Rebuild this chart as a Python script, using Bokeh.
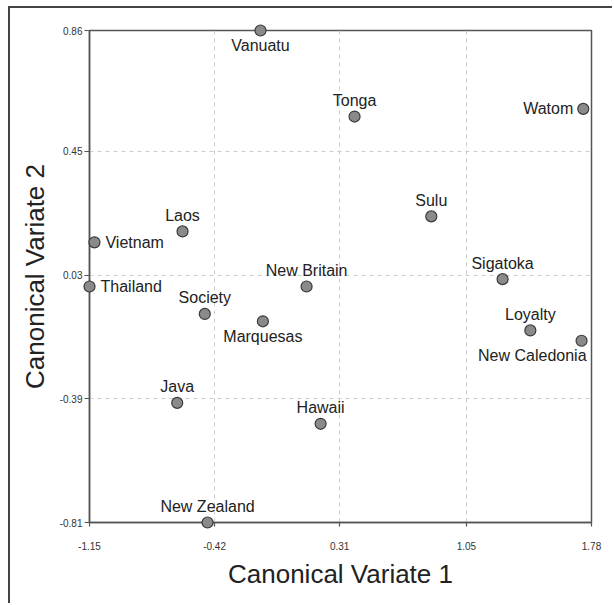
from bokeh.plotting import figure
from bokeh.models import ColumnDataSource, FixedTicker, Range1d, LabelSet
from bokeh.embed import file_html
from bokeh.resources import INLINE
from bokeh.core.properties import value

names = ["Vanuatu", "Tonga", "Watom", "Sulu", "Laos", "Vietnam", "Thailand",
         "New Britain", "Sigatoka", "Society", "Marquesas", "Loyalty",
         "New Caledonia", "Java", "Hawaii", "New Zealand"]
cv1 = [-0.152, 0.397, 1.732, 0.845, -0.607, -1.121, -1.150,
       0.117, 1.261, -0.477, -0.138, 1.423,
       1.722, -0.638, 0.199, -0.461]
cv2 = [0.860, 0.568, 0.594, 0.229, 0.178, 0.141, -0.009,
       -0.009, 0.016, -0.102, -0.127, -0.158,
       -0.193, -0.404, -0.475, -0.810]
placement = ["below", "above", "left", "above", "above", "right", "right",
             "above", "above", "above", "below", "above",
             "belowright", "above", "above", "above"]

x_ticks = [-1.15, -0.42, 0.31, 1.05, 1.78]
x_tick_labels = ["-1.15", "-0.42", "0.31", "1.05", "1.78"]
y_ticks = [0.86, 0.45, 0.03, -0.39, -0.81]
y_tick_labels = ["0.86", "0.45", "0.03", "-0.39", "-0.81"]

FONT = "Liberation Sans"
FRAME = "#555555"

xo, yo, al = [], [], []
for pl in placement:
    if pl == "above":
        xo.append(0); yo.append(16); al.append("center")
    elif pl == "below":
        xo.append(0); yo.append(-15); al.append("center")
    elif pl == "left":
        xo.append(-10); yo.append(0); al.append("right")
    elif pl == "right":
        xo.append(11); yo.append(0); al.append("left")
    else:
        xo.append(5); yo.append(-15); al.append("right")

src = ColumnDataSource(dict(x=cv1, y=cv2, name=names, xo=xo, yo=yo, al=al))

p = figure(width=604, height=597, output_backend="svg", toolbar_location=None,
           x_range=Range1d(x_ticks[0], x_ticks[-1]),
           y_range=Range1d(y_ticks[-1], y_ticks[0]),
           min_border_left=79, min_border_right=23, min_border_top=22,
           min_border_bottom=83,
           styles={"margin-left": "8px", "margin-top": "6px",
                   "border-left": "2px solid #444444",
                   "border-top": "2px solid #444444"})

p.outline_line_color = FRAME
p.outline_line_width = 1.5
p.outline_line_alpha = 1.0
p.background_fill_color = "white"
p.border_fill_color = "white"

p.xaxis.ticker = FixedTicker(ticks=x_ticks)
p.yaxis.ticker = FixedTicker(ticks=y_ticks)
p.xaxis.major_label_overrides = {t: l for t, l in zip(x_ticks, x_tick_labels)}
p.yaxis.major_label_overrides = {t: l for t, l in zip(y_ticks, y_tick_labels)}

for ax in (p.xaxis, p.yaxis):
    ax.axis_line_color = FRAME
    ax.axis_line_width = 1.5
    ax.major_tick_line_color = FRAME
    ax.major_tick_line_width = 1.2
    ax.major_tick_out = 5
    ax.major_tick_in = 0
    ax.minor_tick_line_color = None
    ax.major_label_text_font = FONT
    ax.major_label_text_font_size = "10px"
    ax.major_label_text_color = "#333333"
    ax.axis_label_text_font = FONT
    ax.axis_label_text_font_size = "26px"
    ax.axis_label_text_font_style = "normal"
    ax.axis_label_text_color = "#222222"

p.xaxis.axis_label = "Canonical Variate 1"
p.yaxis.axis_label = "Canonical Variate 2"
p.xaxis.major_label_standoff = 15
p.xaxis.axis_label_standoff = 6
p.yaxis.major_label_standoff = 2
p.yaxis.axis_label_standoff = 7
p.xaxis.major_tick_out = 4

p.grid.grid_line_color = "#cccccc"
p.grid.grid_line_dash = "4 4"
p.grid.grid_line_width = 1

r = p.scatter("x", "y", source=src, size=11, fill_color="#8a8a8a",
              line_color="#3a3a3a", line_width=1.2, level="overlay")

labels = LabelSet(x="x", y="y", text="name", source=src,
                  x_offset="xo", y_offset="yo", text_align="al",
                  text_baseline="middle", text_font=value(FONT),
                  text_font_size="16px", text_color="#222222")
p.add_layout(labels)

open("out.html", "w").write(file_html(p, INLINE))
